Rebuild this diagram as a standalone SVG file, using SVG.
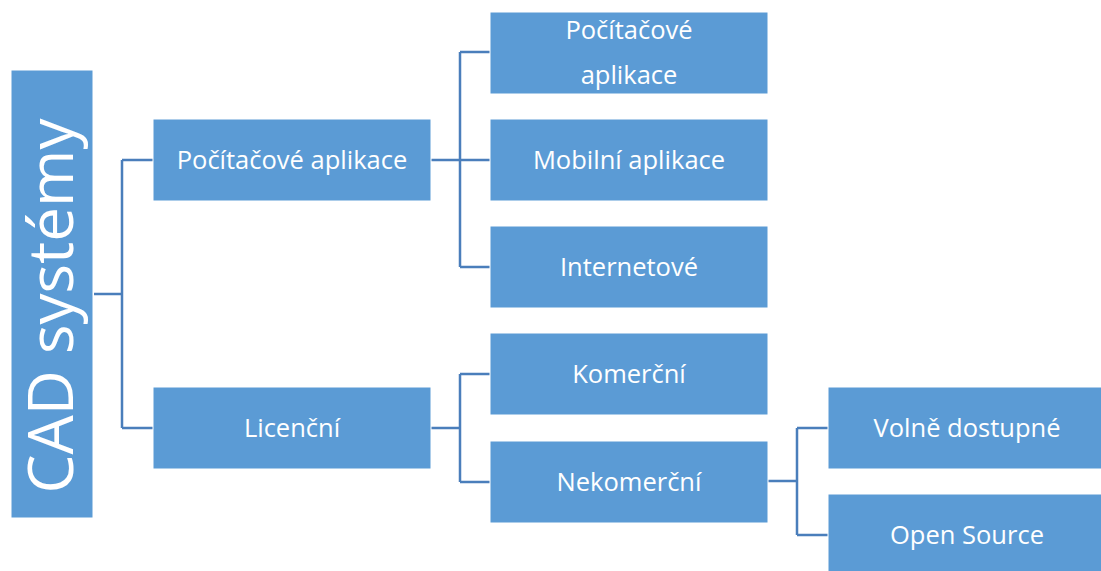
<svg xmlns="http://www.w3.org/2000/svg" width="1101" height="571" viewBox="0 0 1101 571">
<style>
.box{fill:#5b9bd5;stroke:#ffffff;stroke-width:1}
.t{fill:#ffffff;font-family:"Open Sans","Liberation Sans",Arial,sans-serif;font-size:25.5px;text-anchor:middle}
.c{fill:none;stroke:#4a7ebb;stroke-width:2.5}
</style>
<rect width="1101" height="571" fill="#ffffff"/>
<g id="connectors">
<path class="c" d="M94,294H122M122,160V428M122,160H153M122,428H153"/>
<path class="c" d="M431,160H490M460,52V267M460,52H490M460,267H490"/>
<path class="c" d="M431,428H460M460,374V482M460,374H490M460,482H490"/>
<path class="c" d="M768,481H797M797,428V535M797,428H828M797,535H828"/>
</g>
<g id="cad">
<rect class="box" x="11" y="70" width="82" height="448"/>
<text class="t" transform="translate(73,306) rotate(-90)" style="font-size:62px">CAD systémy</text>
</g>
<g id="pc-apps">
<rect class="box" x="153" y="119" width="278" height="82"/>
<text class="t" x="292" y="169">Počítačové aplikace</text>
</g>
<g id="licence">
<rect class="box" x="153" y="387" width="278" height="82"/>
<text class="t" x="292" y="437">Licenční</text>
</g>
<g id="pc">
<rect class="box" x="490" y="12" width="278" height="82"/>
<text class="t" x="629" y="39">Počítačové</text>
<text class="t" x="629" y="84">aplikace</text>
</g>
<g id="mobile">
<rect class="box" x="490" y="119" width="278" height="82"/>
<text class="t" x="629" y="169">Mobilní aplikace</text>
</g>
<g id="internet">
<rect class="box" x="490" y="226" width="278" height="82"/>
<text class="t" x="629" y="276">Internetové</text>
</g>
<g id="komercni">
<rect class="box" x="490" y="333" width="278" height="82"/>
<text class="t" x="629" y="383">Komerční</text>
</g>
<g id="nekomercni">
<rect class="box" x="490" y="441" width="278" height="82"/>
<text class="t" x="629" y="491">Nekomerční</text>
</g>
<g id="volne">
<rect class="box" x="828" y="387" width="280" height="82"/>
<text class="t" x="967" y="437">Volně dostupné</text>
</g>
<g id="open">
<rect class="box" x="828" y="494" width="280" height="82"/>
<text class="t" x="967" y="544">Open Source</text>
</g>
</svg>
